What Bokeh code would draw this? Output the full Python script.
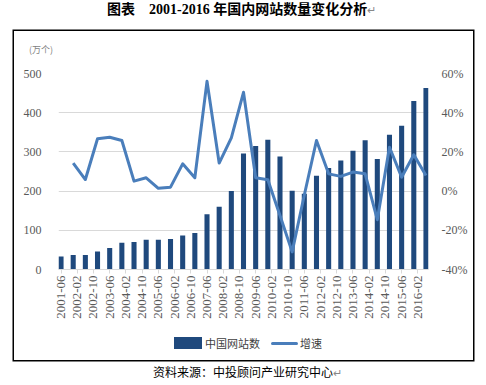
import math
from bokeh.plotting import figure
from bokeh.layouts import column
from bokeh.models import (Range1d, LinearAxis, FixedTicker, PrintfTickFormatter,
                          ColumnDataSource, Div)
from bokeh.embed import file_html
from bokeh.resources import INLINE

# ---------------- data ----------------
periods = ["2001-06", "2001-12", "2002-06", "2002-12", "2003-06", "2003-12",
           "2004-06", "2004-12", "2005-06", "2005-12", "2006-06", "2006-12",
           "2007-06", "2007-12", "2008-06", "2008-12", "2009-06", "2009-12",
           "2010-06", "2010-12", "2011-06", "2011-12", "2012-06", "2012-12",
           "2013-06", "2013-12", "2014-06", "2014-12", "2015-06", "2015-12",
           "2016-06"]
sites = [33, 37, 37, 46, 55, 68, 70, 76, 76, 78, 87, 93, 141, 160, 200, 296,
         315, 331, 288, 201, 193, 239, 259, 278, 303, 330, 282, 344, 367, 430, 463]
growth = [None, 14.3, 5.9, 26.7, 27.5, 25.8, 5.1, 6.8, 1.4, 2.0, 13.9, 6.8,
          56.0, 14.3, 27.2, 50.4, 6.8, 5.8, -12.4, -31.0, -2.0, 25.8, 8.8, 7.5,
          9.7, 8.8, -14.6, 22.4, 7.1, 18.5, 8.0]
tick_labels = ["2001-06", "2002-02", "2002-10", "2003-06", "2004-02", "2004-10",
               "2005-06", "2006-02", "2006-10", "2007-06", "2008-02", "2008-10",
               "2009-06", "2010-02", "2010-10", "2011-06", "2012-02", "2012-10",
               "2013-06", "2014-02", "2014-10", "2015-06", "2016-02"]
title_text = "图表　2001-2016 年国内网站数量变化分析"
unit_text = "(万个)"
source_text = "资料来源：中投顾问产业研究中心"
para_mark = "↵"
bar_name = "中国网站数"
line_name = "增速"
BAR_COLOR = "#1f497d"
LINE_COLOR = "#4a7ebb"


def month_index(s):
    y, m = s.split("-")
    return (int(y) - 2001) * 12 + int(m) - 6


xs = [month_index(s) for s in periods]
bar_src = ColumnDataSource(dict(x=xs, v=sites))
gx = [x for x, g in zip(xs, growth) if g is not None]
gv = [g for g in growth if g is not None]
line_src = ColumnDataSource(dict(x=gx, g=gv))

BAR_W = 2.5
GRAY = "#595959"

p = figure(width=459, height=270, output_backend="svg", toolbar_location=None,
           x_range=Range1d(xs[0] - BAR_W / 2, xs[-1] + BAR_W / 2),
           y_range=Range1d(0, 500),
           min_border_left=44, min_border_right=45,
           min_border_top=14, min_border_bottom=60)
p.margin = 0
p.extra_y_ranges = {"pct": Range1d(-40, 60)}
p.outline_line_color = None
p.background_fill_color = "white"
p.border_fill_color = "white"

bars = p.vbar(x="x", top="v", width=BAR_W, source=bar_src,
              fill_color=BAR_COLOR, line_color=None)
line = p.line(x="x", y="g", source=line_src, y_range_name="pct",
              line_color=LINE_COLOR, line_width=3, line_join="round")

# grid
p.xgrid.visible = False
p.ygrid.grid_line_color = "#d9d9d9"
p.ygrid.ticker = FixedTicker(ticks=[100, 200, 300, 400, 500])

# left axis
ya = p.yaxis[0]
ya.ticker = FixedTicker(ticks=[0, 100, 200, 300, 400, 500])
ya.axis_line_color = None
ya.major_tick_line_color = None
ya.minor_tick_line_color = None
ya.major_label_standoff = 11
ya.major_label_text_font = "Liberation Serif"
ya.major_label_text_font_size = "12px"
ya.major_label_text_color = GRAY

# right axis
ra = LinearAxis(y_range_name="pct", ticker=FixedTicker(ticks=[-40, -20, 0, 20, 40, 60]),
                formatter=PrintfTickFormatter(format="%d%%"))
ra.axis_line_color = None
ra.major_tick_line_color = None
ra.minor_tick_line_color = None
ra.major_label_standoff = 7
ra.major_label_text_font = "Liberation Serif"
ra.major_label_text_font_size = "12px"
ra.major_label_text_color = GRAY
p.add_layout(ra, "right")

# bottom axis
xa = p.xaxis[0]
xa.ticker = FixedTicker(ticks=[month_index(t) for t in tick_labels])
xa.major_label_overrides = {month_index(t): t for t in tick_labels}
xa.major_label_orientation = math.pi / 2
xa.axis_line_color = "#d9d9d9"
xa.major_tick_line_color = "#d9d9d9"
xa.major_tick_out = 4
xa.major_tick_in = 0
xa.minor_tick_line_color = None
xa.major_label_standoff = 2
xa.major_label_text_font = "Liberation Serif"
xa.major_label_text_font_size = "13px"
xa.major_label_text_color = GRAY

MARK = f'<span style="color:#888;font-weight:normal;font-size:11px;">{para_mark}</span>'

title_div = Div(
    text=(f'<div style="font: bold 14px \'Liberation Serif\', \'Noto Sans CJK SC\';'
          f'white-space: nowrap; padding: 2px 0 0 107px; line-height: 16px; color: #000;">'
          f'{title_text}{MARK}</div>'),
    width=478, height=31, margin=0)

unit_div = Div(
    text=(f'<div style="font: 9px \'Noto Sans CJK SC\'; white-space: nowrap;'
          f'padding: 13px 0 0 15px; line-height: 11px; color: #7f7f7f;">{unit_text}</div>'),
    width=459, height=28, margin=0)

legend_div = Div(
    text=(f'<div style="display:flex; align-items:center; padding: 8px 0 0 160px;'
          f'font: 11px \'Noto Sans CJK SC\'; color: #404040; white-space: nowrap;">'
          f'<span style="display:inline-block;width:28px;height:12px;background:{BAR_COLOR};"></span>'
          f'<span style="margin-left:3px;line-height:12px;">{bar_name}</span>'
          f'<span style="display:inline-block;width:27px;height:3px;border-radius:1.5px;'
          f'background:{LINE_COLOR};margin-left:11px;"></span>'
          f'<span style="margin-left:2px;line-height:12px;">{line_name}</span></div>'),
    width=459, height=31, margin=0)

source_div = Div(
    text=(f'<div style="font: 12px \'Noto Sans CJK SC\'; white-space: nowrap;'
          f'padding: 5px 0 0 153px; line-height: 14px; color: #000;">'
          f'{source_text}{MARK}</div>'),
    width=478, height=17, margin=0)

box = column(unit_div, p, legend_div, spacing=0, width=459, height=329)
box.margin = (0, 0, 0, 14)
box.styles = {"box-shadow": "0 0 0 1.5px #000", "background": "white"}

layout = column(title_div, box, source_div, spacing=0)
layout.margin = 0
open("out.html", "w").write(file_html(layout, INLINE))
